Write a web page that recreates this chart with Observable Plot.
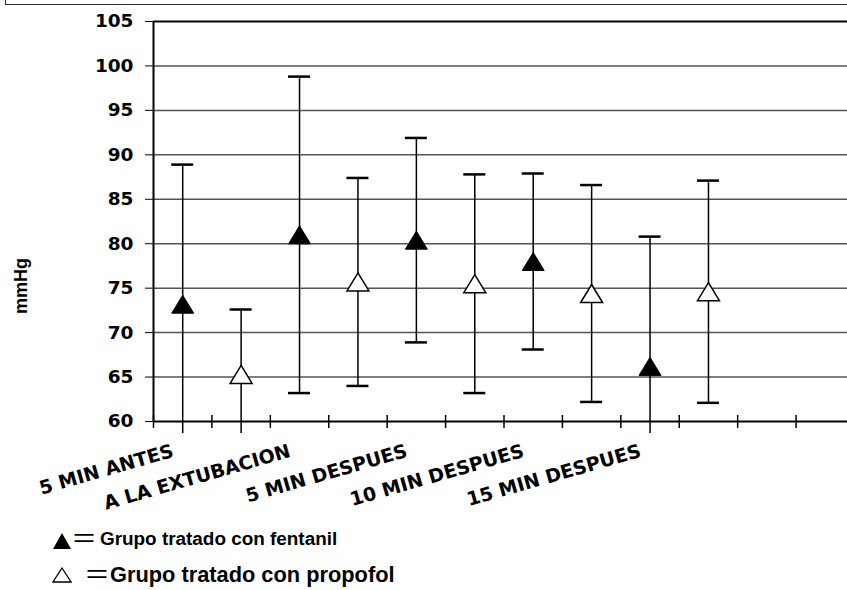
<!DOCTYPE html>
<html><head><meta charset="utf-8">
<script src="https://cdn.jsdelivr.net/npm/d3@7"></script>
<script src="https://cdn.jsdelivr.net/npm/@observablehq/plot@0.6"></script>
<style>
html,body{margin:0;padding:0;background:#fff;}
body{width:847px;height:590px;overflow:hidden;position:relative;}
#box{position:absolute;left:5px;top:-3px;width:900px;height:7px;border-left:1.5px solid #333;border-bottom:1.5px solid #333;z-index:2;}
#chart svg{display:block;}
.lg{position:absolute;white-space:nowrap;font-family:"Liberation Sans",Arial,sans-serif;font-weight:bold;color:#000;}
.eq{position:absolute;white-space:nowrap;font-family:"Noto Sans CJK JP",sans-serif;font-weight:normal;color:#000;}
.sym{position:absolute;}
#ylabel{position:absolute;left:21px;top:286px;transform:translate(-50%,-50%) rotate(-90deg);font-family:"Liberation Sans",Arial,sans-serif;font-weight:bold;font-size:18px;line-height:18px;white-space:nowrap;color:#000;}
</style></head>
<body>
<div id="box"></div>
<div id="chart"></div>
<div id="ylabel"></div>
<div id="legend">
  <svg class="sym" style="left:53px;top:533px" width="18" height="16"><polygon points="9,0 18,16 0,16" fill="#000"/></svg>
  <span class="eq" style="left:71px;top:524px;font-size:26px;line-height:26px;">＝</span>
  <span class="lg" id="lg1" style="left:100px;top:530px;font-size:18.9px;line-height:18.9px;"></span>
  <svg class="sym" style="left:52px;top:567px" width="20" height="16"><polygon points="10,1 19,15 1,15" fill="#fff" stroke="#000" stroke-width="1.3"/></svg>
  <span class="eq" style="left:84px;top:560px;font-size:26px;line-height:26px;">＝</span>
  <span class="lg" id="lg2" style="left:110px;top:564px;font-size:21.8px;line-height:21.8px;"></span>
</div>
<script>
const categories = ["5 MIN ANTES", "A LA EXTUBACION", "5 MIN DESPUES", "10 MIN DESPUES", "15 MIN DESPUES"];
const fentanilMean = [73.2, 81.0, 80.4, 78.0, 66.2];
const fentanilSD   = [15.7, 17.8, 11.5, 9.9, 14.6];
const propofolMean = [65.3, 75.7, 75.5, 74.4, 74.6];
const propofolSD   = [7.3, 11.7, 12.3, 12.2, 12.5];
const yTicks = [60, 65, 70, 75, 80, 85, 90, 95, 100, 105];
const slotCount = 12;
const yTitle = "mmHg";
const legendLabels = ["Grupo tratado con fentanil", "Grupo tratado con propofol"];

document.getElementById("ylabel").textContent = yTitle;
document.getElementById("lg1").textContent = legendLabels[0];
document.getElementById("lg2").textContent = legendLabels[1];

const fentanil = categories.map((c, i) => ({cat: c, pos: 2 * i + 0.5, mean: fentanilMean[i], lo: fentanilMean[i] - fentanilSD[i], hi: fentanilMean[i] + fentanilSD[i]}));
const propofol = categories.map((c, i) => ({cat: c, pos: 2 * i + 1.5, mean: propofolMean[i], lo: propofolMean[i] - propofolSD[i], hi: propofolMean[i] + propofolSD[i]}));
const all = fentanil.concat(propofol);
const slots = d3.range(0, slotCount + 1);

const tri = {draw(ctx, size) { const r = Math.sqrt(size / Math.PI); ctx.moveTo(0, -r); ctx.lineTo(r * 1.22, r); ctx.lineTo(-r * 1.22, r); ctx.closePath(); }};

const chart = Plot.plot({
  width: 847, height: 525,
  marginLeft: 153, marginRight: 0, marginTop: 21, marginBottom: 92,
  style: {fontFamily: "DejaVu Sans", fontWeight: "bold", fontSize: "18.5px", background: "transparent", color: "#000"},
  x: {domain: [0, slotCount], range: [153, 854], axis: null},
  y: {domain: [58.65, 105], ticks: yTicks, tickSize: 8, tickPadding: 12, label: null, tickFormat: d3.format("d")},
  marks: [
    Plot.ruleY(yTicks.filter(v => v > 60 && v < 105), {x1: 0, x2: slotCount, stroke: "#555", strokeWidth: 1.5}),
    Plot.ruleY([105], {x1: 0, x2: slotCount, stroke: "#000", strokeWidth: 2}),
    Plot.ruleY([60], {x1: 0, x2: slotCount, stroke: "#000", strokeWidth: 2}),
    Plot.ruleX([0], {y1: 60, y2: 105, stroke: "#000", strokeWidth: 2}),
    Plot.ruleX(slots, {x: d => d, y1: 60, y2: 60, insetTop: 7, insetBottom: 6, stroke: "#000", strokeWidth: 1.5}),
    Plot.ruleX(all, {x: "pos", y1: "lo", y2: "hi", stroke: "#000", strokeWidth: 1.5, clip: true}),
    Plot.ruleY(all, {y: "hi", x1: "pos", x2: "pos", insetLeft: -11, insetRight: -11, stroke: "#000", strokeWidth: 2.5, clip: true}),
    Plot.ruleY(all, {y: "lo", x1: "pos", x2: "pos", insetLeft: -11, insetRight: -11, stroke: "#000", strokeWidth: 2.5, clip: true}),
    Plot.dot(fentanil, {x: "pos", y: "mean", r: 9, symbol: tri, fill: "#000", stroke: "#000", strokeWidth: 1}),
    Plot.dot(propofol, {x: "pos", y: "mean", r: 9, symbol: tri, fill: "#fff", stroke: "#000", strokeWidth: 1.5}),
    Plot.text(fentanil, {x: "pos", y: 60, text: "cat", rotate: -16, textAnchor: "end", lineAnchor: "bottom", dx: -8, dy: 35, fontSize: 19, fill: "#000"})
  ]
});
document.getElementById("chart").appendChild(chart);
</script>
</body></html>
